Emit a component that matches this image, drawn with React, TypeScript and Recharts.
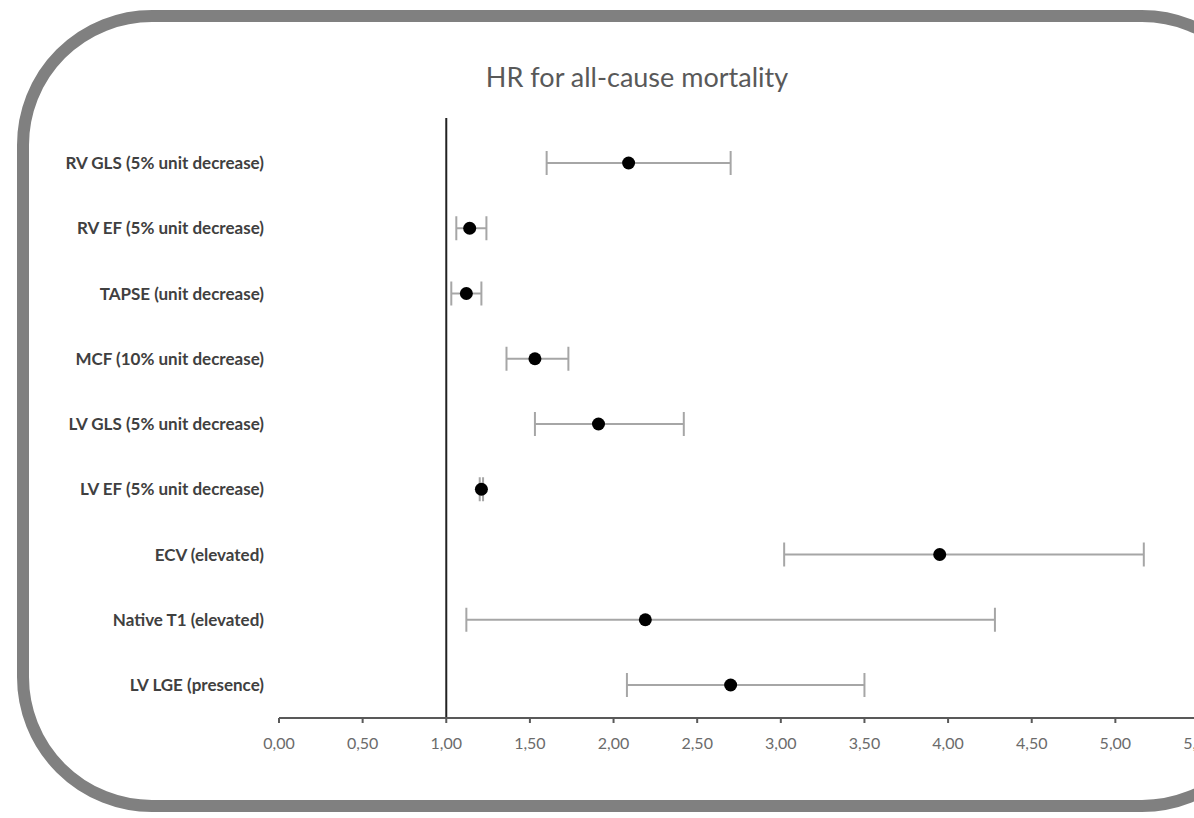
import React from "react";
import { ComposedChart, Line, ErrorBar, XAxis, YAxis, ReferenceLine } from "recharts";

const categories = [
  "RV GLS (5% unit decrease)",
  "RV EF (5% unit decrease)",
  "TAPSE (unit decrease)",
  "MCF (10% unit decrease)",
  "LV GLS (5% unit decrease)",
  "LV EF (5% unit decrease)",
  "ECV (elevated)",
  "Native T1 (elevated)",
  "LV LGE (presence)",
];
const hazardRatio = [2.09, 1.14, 1.12, 1.53, 1.91, 1.21, 3.95, 2.19, 2.7];
const lowerCI = [1.6, 1.06, 1.03, 1.36, 1.53, 1.2, 3.02, 1.12, 2.08];
const upperCI = [2.7, 1.24, 1.21, 1.73, 2.42, 1.22, 5.17, 4.28, 3.5];
const xTicks = [0, 0.5, 1, 1.5, 2, 2.5, 3, 3.5, 4, 4.5, 5, 5.5];

const data = categories.map((name, i) => ({
  name,
  hr: hazardRatio[i],
  err: [hazardRatio[i] - lowerCI[i], upperCI[i] - hazardRatio[i]],
}));

const font = "Lato, 'Open Sans', sans-serif";

export default function App() {
  return (
    <div
      style={{
        position: "absolute",
        left: 0,
        top: 0,
        width: 1194,
        height: 818,
        overflow: "hidden",
        background: "#fff",
        fontFamily: font,
      }}
    >
      {/* rounded frame, runs off the right edge like the source */}
      <div
        style={{
          position: "absolute",
          left: 17,
          top: 10,
          width: 1260,
          height: 802,
          boxSizing: "border-box",
          border: "12px solid #808080",
          borderRadius: 135,
        }}
      />
      <div
        style={{
          position: "absolute",
          top: 60,
          left: 0,
          width: 1274,
          textAlign: "center",
          fontSize: 27,
          lineHeight: "34px",
          color: "#595959",
        }}
      >
        HR for all-cause mortality
      </div>
      <div style={{ position: "absolute", left: 0, top: 0 }}>
        <ComposedChart
          width={1260}
          height={818}
          data={data}
          layout="vertical"
          margin={{ top: 118, right: 61, bottom: 70, left: 0 }}
        >
          <XAxis
            type="number"
            domain={[0, 5.5]}
            ticks={xTicks}
            interval={0}
            allowDataOverflow
            stroke="#595959"
            strokeWidth={2}
            tickSize={5}
            tickMargin={15}
            tick={{ fill: "#6b6b6b", fontSize: 16, fontFamily: font }}
            tickFormatter={(v: number) => v.toFixed(2).replace(".", ",")}
            height={30}
          />
          <YAxis
            type="category"
            dataKey="name"
            width={279}
            axisLine={false}
            tickLine={false}
            tickMargin={9}
            padding={{ top: 45, bottom: 33 }}
            tick={{ fill: "#404040", fontSize: 17, fontWeight: 700, fontFamily: font }}
          />
          <ReferenceLine x={1} stroke="#222" strokeWidth={2} />
          <Line
            dataKey="hr"
            stroke="none"
            isAnimationActive={false}
            dot={{ r: 6.5, fill: "#000", stroke: "#000", strokeWidth: 0 }}
            activeDot={false}
          >
            <ErrorBar
              dataKey="err"
              direction="x"
              width={12}
              stroke="#a6a6a6"
              strokeWidth={2}
              isAnimationActive={false}
            />
          </Line>
        </ComposedChart>
      </div>
    </div>
  );
}
